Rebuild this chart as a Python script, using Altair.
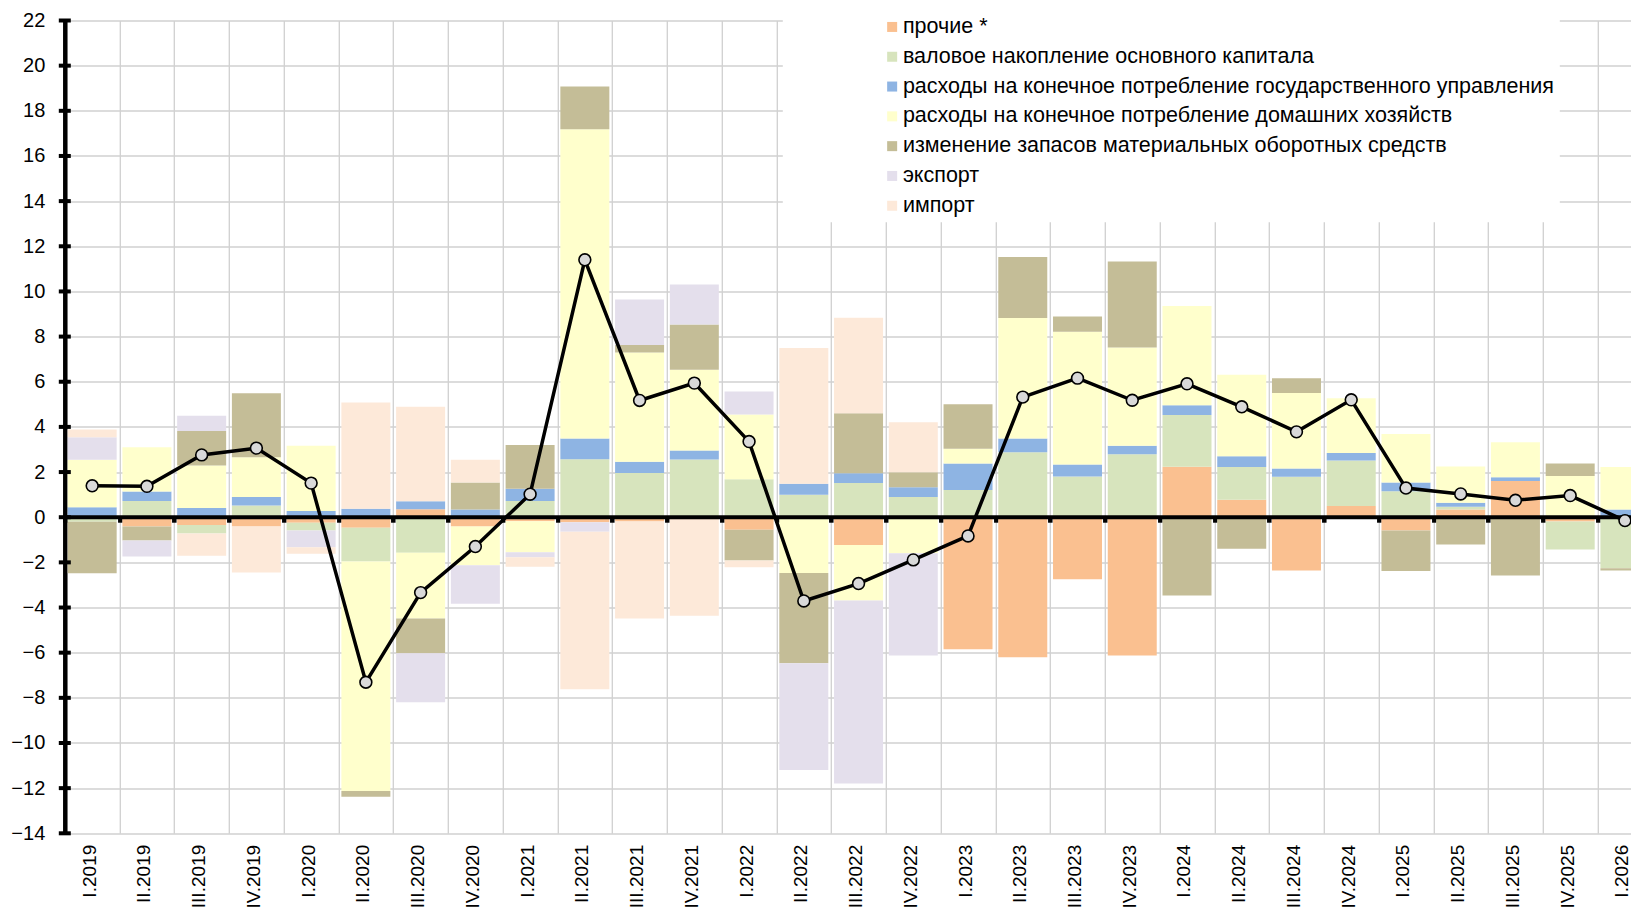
import altair as alt
import pandas as pd

quarters = ["I.2019", "II.2019", "III.2019", "IV.2019",
            "I.2020", "II.2020", "III.2020", "IV.2020",
            "I.2021", "II.2021", "III.2021", "IV.2021",
            "I.2022", "II.2022", "III.2022", "IV.2022",
            "I.2023", "II.2023", "III.2023", "IV.2023",
            "I.2024", "II.2024", "III.2024", "IV.2024",
            "I.2025", "II.2025", "III.2025", "IV.2025",
            "I.2026"]

series_names = [
    "прочие *",
    "валовое накопление основного капитала",
    "расходы на конечное потребление государственного управления",
    "расходы на конечное потребление домашних хозяйств",
    "изменение запасов материальных оборотных средств",
    "экспорт",
    "импорт",
]
series_colors = ["#FAC090", "#D7E4BD", "#8EB4E3", "#FFFFCC", "#C4BD97", "#E4DFEC", "#FDE9D9"]

other = [0.0, -0.41, -0.34, -0.41, -0.25, -0.47, 0.35, -0.41,
         -0.18, -0.22, -0.19, -0.10, -0.56, 0.0, -1.23, 0.0,
         -5.85, -6.20, -2.75, -6.12, 2.23, 0.77, -2.36, 0.50,
         -0.59, 0.34, 1.60, -0.19, 0.0]
gfcf = [-0.20, 0.72, -0.38, 0.52, -0.34, -1.49, -1.57, 0.0,
        0.72, 2.57, 1.96, 2.56, 1.68, 1.00, 1.52, 0.90,
        1.21, 2.88, 1.80, 2.79, 2.30, 1.45, 1.79, 2.01,
        1.15, 0.12, 0.0, -1.24, -2.26]
government = [0.44, 0.42, 0.41, 0.38, 0.28, 0.37, 0.36, 0.34,
              0.54, 0.92, 0.50, 0.40, 0.0, 0.48, 0.43, 0.43,
              1.17, 0.61, 0.53, 0.37, 0.43, 0.48, 0.37, 0.33,
              0.39, 0.18, 0.17, 0.0, 0.34]
households = [2.10, 1.96, 1.88, 1.76, 2.88, -10.17, -2.92, -1.72,
              -1.37, 13.69, 4.84, 3.57, 2.87, -2.47, -2.46, -1.60,
              0.65, 5.33, 5.88, 4.36, 4.39, 3.61, 3.34, 2.43,
              2.15, 1.61, 1.55, 1.82, 1.88]
inventories = [-2.28, -0.62, 1.53, 2.83, 0.0, -0.25, -1.54, 1.20,
               1.94, 1.90, 0.33, 2.01, -1.36, -4.00, 2.66, 0.66,
               1.97, 2.70, 0.68, 3.81, -3.47, -1.40, 0.66, 0.0,
               -1.79, -1.21, -2.58, 0.56, -0.10]
exports = [1.00, -0.71, 0.67, 0.0, -0.74, 0.0, -2.17, -1.70,
           -0.22, -0.42, 2.01, 1.77, 1.02, -4.73, -8.10, -4.53,
           0.0, 0.0, 0.0, 0.0, 0.0, 0.0, 0.0, 0.0,
           0.0, 0.0, 0.0, 0.0, 0.0]
imports = [0.34, 0.0, -0.99, -2.04, -0.29, 4.71, 4.18, 1.00,
           -0.42, -6.98, -4.30, -4.26, -0.30, 6.01, 4.22, 2.22,
           0.0, 0.0, 0.0, 0.0, 0.0, 0.0, 0.0, 0.0,
           0.0, 0.0, 0.0, 0.0, 0.0]
gdp = [1.39, 1.37, 2.76, 3.06, 1.51, -7.31, -3.34, -1.30,
       1.02, 11.40, 5.17, 5.94, 3.35, -3.71, -2.94, -1.89,
       -0.83, 5.32, 6.16, 5.18, 5.91, 4.89, 3.78, 5.20,
       1.29, 1.03, 0.75, 0.96, -0.15]

y_ticks = [-14, -12, -10, -8, -6, -4, -2, 0, 2, 4, 6, 8, 10, 12, 14, 16, 18, 20, 22]

series_values = [other, gfcf, government, households, inventories, exports, imports]
rows = []
for idx, (name, vals) in enumerate(zip(series_names, series_values)):
    for q, v in zip(quarters, vals):
        rows.append({"quarter": q, "series": name, "value": v, "idx": idx})
bars_df = pd.DataFrame(rows)
gdp_df = pd.DataFrame({"quarter": quarters, "gdp": gdp})
ticks_df = pd.DataFrame({"v": y_ticks})

PAD_L = 56.8
PAD_T = 12.5
SVG_W = 1623
SVG_H = 903
FULL_W = 1587.5          # full band range (last band is cut by the page edge)
W = SVG_W - PAD_L        # visible plot width
H = 812.8
GRID = "#D0D0D0"
FONT = "Liberation Sans"

x_scale = alt.Scale(domain=quarters, range=[0, FULL_W], paddingInner=0, paddingOuter=0)
y_scale = alt.Scale(domain=[-14, 22], nice=False, zero=False)

y_axis = alt.Axis(title=None, values=y_ticks, labelFontSize=20, labelPadding=20,
                  labelColor="black", ticks=False, domainColor="black",
                  domainWidth=4.5, gridColor=GRID, gridWidth=1.3, labelFont=FONT)

bars = alt.Chart(bars_df).mark_bar(width=alt.RelativeBandSize(0.895)).encode(
    x=alt.X("quarter:N", scale=x_scale, sort=None,
            axis=alt.Axis(title=None, labelAngle=270, labelFontSize=19, labelPadding=11,
                          labelOffset=-3,
                          labelColor="black", ticks=False, domain=False, grid=True,
                          gridColor=GRID, gridWidth=1.3, tickBand="extent", labelFont=FONT)),
    y=alt.Y("value:Q", stack="zero", scale=y_scale, axis=y_axis),
    color=alt.Color("series:N",
                    scale=alt.Scale(domain=series_names, range=series_colors),
                    legend=alt.Legend(title=" ", titleFontSize=1, titleOrient="left",
                                      titlePadding=93.6, orient="none", legendX=718,
                                      legendY=-9.3, fillColor="white", padding=5,
                                      symbolType="square", symbolSize=100,
                                      symbolStrokeWidth=0, symbolOpacity=1,
                                      labelFontSize=21.5, labelLimit=1000, labelOffset=0,
                                      rowPadding=6.8, labelColor="black", labelFont=FONT)),
    order=alt.Order("idx:Q", sort="ascending"),
)

zero_line = alt.Chart(pd.DataFrame({"z": [0]})).mark_rule(color="black", strokeWidth=4).encode(
    y=alt.Y("z:Q", scale=y_scale, axis=y_axis)
)

y_cross_ticks = alt.Chart(ticks_df).mark_tick(
    orient="horizontal", size=12, thickness=4, color="black", opacity=1
).encode(
    x=alt.value(0),
    y=alt.Y("v:Q", scale=y_scale, axis=y_axis),
)

line = alt.Chart(gdp_df).mark_line(color="black", strokeWidth=3.5).encode(
    x=alt.X("quarter:N", scale=x_scale, sort=None,
            axis=alt.Axis(orient="bottom", offset=-(14 / 36) * H, title=None, domain=False,
                          labels=False, grid=False, ticks=True, tickColor="black",
                          tickWidth=4.5, tickSize=5, tickBand="extent")),
    y=alt.Y("gdp:Q", scale=y_scale, axis=y_axis),
)

points = alt.Chart(gdp_df).mark_circle(
    size=140, color="#D9D9D9", opacity=1, stroke="black", strokeWidth=1.6
).encode(
    x=alt.X("quarter:N", scale=x_scale, sort=None, axis=None),
    y=alt.Y("gdp:Q", scale=y_scale, axis=y_axis),
)

chart = alt.layer(bars, zero_line, y_cross_ticks, line, points).resolve_axis(
    x="independent"
).properties(
    width=W,
    height=H,
    padding={"left": PAD_L, "top": PAD_T, "right": 0, "bottom": SVG_H - PAD_T - H},
    autosize=alt.AutoSizeParams(type="none"),
).configure(
    font=FONT,
    background="white",
).configure_view(
    stroke=None
)

chart.save("out.html", embed_options={"renderer": "svg", "actions": False})
